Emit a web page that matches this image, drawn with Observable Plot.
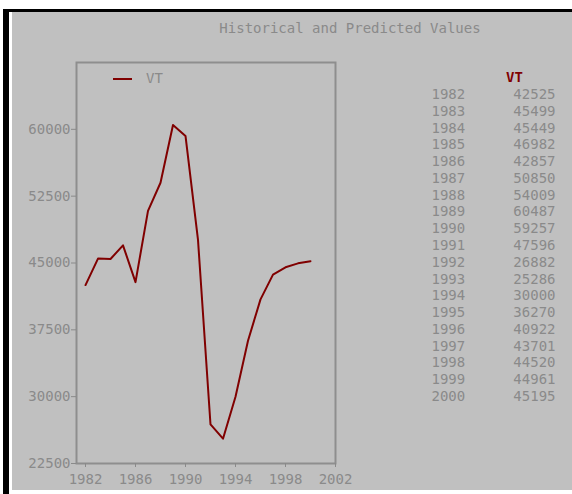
<!DOCTYPE html>
<html>
<head>
<meta charset="utf-8">
<script src="https://cdn.jsdelivr.net/npm/d3@7"></script>
<script src="https://cdn.jsdelivr.net/npm/@observablehq/plot@0.6"></script>
<style>
  html, body { margin: 0; padding: 0; background: #ffffff; }
  #wrap { position: relative; width: 572px; height: 494px; overflow: hidden; background: #ffffff; font-family: "DejaVu Sans Mono", monospace; }
  .abs { position: absolute; }
  svg { position: absolute; left: 0; top: 0; }
</style>
</head>
<body>
<div id="wrap">
  <div class="abs" style="left:12px;top:12px;width:560px;height:478px;background:#c0c0c0;"></div>
  <div class="abs" style="left:3px;top:9px;width:6px;height:485px;background:#000;"></div>
  <div class="abs" style="left:3px;top:9px;width:569px;height:3px;background:#000;"></div>
  <div class="abs" id="title" style="left:0;top:19px;width:700px;text-align:center;font-size:14px;color:#8a8a8a;line-height:18px;">Historical and Predicted Values</div>
  <div class="abs" id="legline" style="left:113px;top:78px;width:19px;height:2px;background:#800000;"></div>
  <div class="abs" id="legtext" style="left:146px;top:69px;font-size:14px;color:#8a8a8a;line-height:18px;">VT</div>
</div>
<script>
const series = "VT";
const years = [1982,1983,1984,1985,1986,1987,1988,1989,1990,1991,1992,1993,1994,1995,1996,1997,1998,1999,2000];
const values = [42525,45499,45449,46982,42857,50850,54009,60487,59257,47596,26882,25286,30000,36270,40922,43701,44520,44961,45195];
const xTicks = [1982,1986,1990,1994,1998,2002];
const yTicks = [22500,30000,37500,45000,52500,60000];

const data = years.map((y, i) => ({year: y, value: values[i]}));
const gray = "#8a8a8a";
const wrap = document.getElementById("wrap");

const chart = Plot.plot({
  width: 572,
  height: 494,
  marginLeft: 76,
  marginRight: 237,
  marginTop: 62,
  marginBottom: 31,
  style: {background: "transparent", fontFamily: "DejaVu Sans Mono, monospace", fontSize: "14px", color: gray},
  x: {domain: [1981.28, 2002], label: null},
  y: {domain: [22500, 67500], label: null},
  marks: [
    Plot.frame({stroke: "#8e8e8e", strokeWidth: 2}),
    Plot.axisX({ticks: xTicks, tickFormat: "d", tickSize: 4, tickPadding: 7, stroke: gray, fill: gray, label: null}),
    Plot.axisY({ticks: yTicks, tickFormat: "d", tickSize: 5, tickPadding: 1, stroke: gray, fill: gray, label: null}),
    Plot.line(data, {x: "year", y: "value", stroke: "#800000", strokeWidth: 2})
  ]
});
wrap.appendChild(chart);

const table = Plot.plot({
  width: 572,
  height: 494,
  marginLeft: 431,
  marginRight: 17,
  marginTop: 94,
  marginBottom: 98,
  style: {background: "transparent", fontFamily: "DejaVu Sans Mono, monospace", fontSize: "14px"},
  y: {type: "point", domain: years, padding: 0, round: false, axis: null},
  marks: [
    Plot.text(data, {y: "year", text: d => String(d.year), frameAnchor: "left", textAnchor: "start", fill: gray}),
    Plot.text(data, {y: "year", text: d => String(d.value), frameAnchor: "right", textAnchor: "end", fill: gray}),
    Plot.text([series], {text: d => d, frameAnchor: "top", lineAnchor: "middle", dx: 21, dy: -17, fill: "#800000", fontWeight: "bold"})
  ]
});
wrap.appendChild(table);
</script>
</body>
</html>
